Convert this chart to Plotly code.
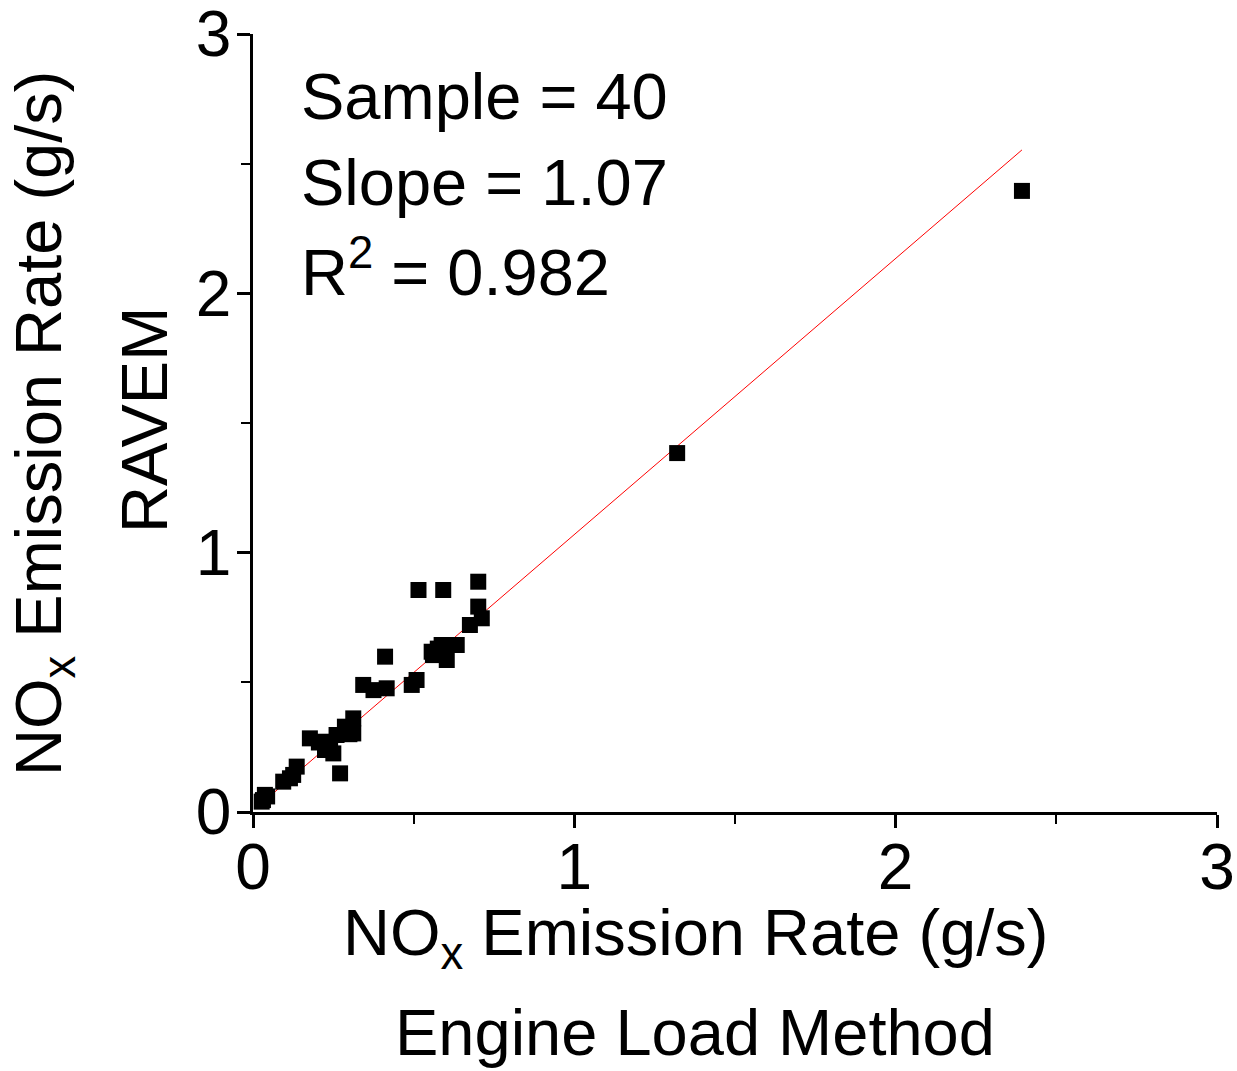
import plotly.graph_objects as go

# ---- data ----
elm_x = [0.515, 0.592, 0.701, 0.701, 0.712, 0.675, 0.634, 0.587, 0.556, 0.603,
         0.411, 0.509, 0.494, 0.343, 0.375, 0.416, 0.312, 0.312, 0.286, 0.260,
         0.177, 0.224, 0.250, 0.224, 0.271, 0.136, 0.125, 0.094, 0.037, 0.027,
         1.320, 2.393, 0.044, 0.031, 0.115, 0.205, 0.240, 0.300, 0.575, 0.560]
ravem_y = [0.856, 0.856, 0.888, 0.792, 0.747, 0.721, 0.644, 0.644, 0.618, 0.586,
           0.599, 0.509, 0.490, 0.490, 0.470, 0.477, 0.361, 0.303, 0.329, 0.297,
           0.284, 0.271, 0.226, 0.239, 0.149, 0.175, 0.143, 0.117, 0.066, 0.040,
           1.384, 2.395, 0.060, 0.046, 0.130, 0.268, 0.255, 0.300, 0.630, 0.605]

fit_x = [0.027, 2.393]
fit_y = [0.034, 2.553]

tick_vals = [0, 1, 2, 3]
tick_text = ["0", "1", "2", "3"]

stats_lines = ["Sample = 40", "Slope = 1.07", "R<sup>2</sup> = 0.982"]

FONT = "Liberation Sans, Arial, sans-serif"

W, H = 1237, 1071
L, R, T, B = 253, 20, 34, 259
pw, ph = W - L - R, H - T - B


def px_x(px):
    return (px - L) / pw


def px_y(py):
    return (H - B - py) / ph


fig = go.Figure()
fig.add_trace(go.Scatter(x=fit_x, y=fit_y, mode="lines",
                         line=dict(color="red", width=1), showlegend=False))
fig.add_trace(go.Scatter(x=elm_x, y=ravem_y, mode="markers",
                         marker=dict(symbol="square", size=16, color="black",
                                     line=dict(width=0)),
                         showlegend=False, cliponaxis=False))

axis_common = dict(range=[0, 3], showgrid=False, zeroline=False, automargin=False,
                   showline=True, linecolor="black", linewidth=2.5,
                   ticks="outside", ticklen=13, tickwidth=2.5, tickcolor="black",
                   tickvals=tick_vals, ticktext=tick_text,
                   ticklabeloverflow="allow",
                   tickfont=dict(family=FONT, size=64, color="black"),
                   minor=dict(dtick=0.5, ticks="outside", ticklen=9,
                              tickwidth=2, tickcolor="black", showgrid=False))

fig.update_xaxes(**axis_common, ticklabelstandoff=-16)
fig.update_yaxes(**axis_common, ticklabelstandoff=-7)

annotations = []
# stats text
for txt, base in zip(stats_lines, [120, 206, 291]):
    annotations.append(dict(text=txt, xref="paper", yref="paper",
                            x=px_x(299), y=px_y(base - 23),
                            xanchor="left", yanchor="middle", showarrow=False,
                            font=dict(family=FONT, size=65, color="black")))
# x title
annotations.append(dict(text="NO<sub>x</sub> Emission Rate (g/s)", xref="paper", yref="paper",
                        x=px_x(695), y=px_y(937), xanchor="center", yanchor="middle",
                        showarrow=False, font=dict(family=FONT, size=65, color="black")))
annotations.append(dict(text="Engine Load Method", xref="paper", yref="paper",
                        x=px_x(695), y=px_y(1032), xanchor="center", yanchor="middle",
                        showarrow=False, font=dict(family=FONT, size=65, color="black")))
# y title
annotations.append(dict(text="NO<sub>x</sub> Emission Rate (g/s)", xref="paper", yref="paper",
                        x=px_x(44), y=px_y(424), xanchor="center", yanchor="middle",
                        textangle=-90, showarrow=False,
                        font=dict(family=FONT, size=65, color="black")))
annotations.append(dict(text="RAVEM", xref="paper", yref="paper",
                        x=px_x(144), y=px_y(420), xanchor="center", yanchor="middle",
                        textangle=-90, showarrow=False,
                        font=dict(family=FONT, size=65, color="black")))

fig.update_layout(width=W, height=H,
                  margin=dict(l=L, r=R, t=T, b=B, pad=0, autoexpand=False),
                  paper_bgcolor="white", plot_bgcolor="white",
                  font=dict(family=FONT, color="black"),
                  annotations=annotations, showlegend=False)

fig.write_html("out.html", config={"displayModeBar": False},
               post_script="document.body.style.margin='0';document.body.style.overflow='hidden';")
